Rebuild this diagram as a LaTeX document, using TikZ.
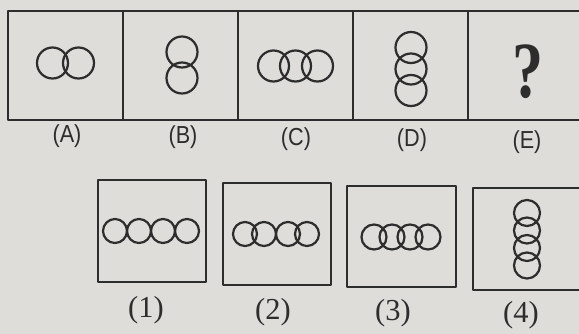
\documentclass[tikz,border=0pt]{standalone}
\usepackage{fontspec}
\setsansfont{Liberation Sans}
\newfontfamily\printserif{Liberation Serif}
\definecolor{paper}{RGB}{222,221,218}
\definecolor{ink}{RGB}{45,45,45}

\begin{document}
\begin{tikzpicture}[x=0.03cm, y=-0.03cm, line join=round,
  frame/.style={draw=ink, line width=2.3pt},
  ring/.style={draw=ink, line width=1.9pt},
  optlabel/.style={font=\sffamily\fontsize{21}{24}\selectfont, text=ink},
  anslabel/.style={font=\printserif\fontsize{26}{28}\selectfont, text=ink}]
\fill[paper] (0,0) rectangle (579,334);
\useasboundingbox (0,0) rectangle (579,334);

\draw[frame] (8,11) rectangle (600,120);
\foreach \xd in {123,238,353,468} \draw[frame] (\xd,11) -- (\xd,120);

\foreach \cx in {52.5,78.5} \draw[ring] (\cx,63) circle (15.5);
\foreach \cy in {52,78} \draw[ring] (182,\cy) circle (15.5);
\foreach \cx in {273.5,295.5,317.5} \draw[ring] (\cx,66) circle (15.5);
\foreach \cy in {47.5,69,90.5} \draw[ring] (411,\cy) circle (15.5);
\node[text=ink, font=\printserif\bfseries\fontsize{68}{68}\selectfont] (q) at (528,72) {\scalebox{0.78}[1]{?}};

\node[optlabel] (lA) at (67,136) {\scalebox{0.88}[1]{(A)}};
\node[optlabel] (lB) at (183,137) {\scalebox{0.88}[1]{(B)}};
\node[optlabel] (lC) at (296,139) {\scalebox{0.88}[1]{(C)}};
\node[optlabel] (lD) at (412,140) {\scalebox{0.88}[1]{(D)}};
\node[optlabel] (lE) at (527,142) {\scalebox{0.88}[1]{(E)}};

\draw[frame] (98,180) rectangle (206,282);
\draw[frame] (223,183) rectangle (331,285);
\draw[frame] (347,186) rectangle (456,287);
\draw[frame] (473,188) rectangle (582,290);

\foreach \cx in {115,139,163,187} \draw[ring] (\cx,231) circle (12);
\foreach \cx in {245,264,288,307} \draw[ring] (\cx,234) circle (12);
\foreach \cx in {374,392,410,428} \draw[ring] (\cx,237) circle (12.5);
\foreach \cy in {213,230.5,248,265.5} \draw[ring] (527,\cy) circle (13);

\node[anslabel] (l1) at (146,310) {(1)};
\node[anslabel] (l2) at (273,312) {(2)};
\node[anslabel] (l3) at (393,313) {(3)};
\node[anslabel] (l4) at (521,315) {(4)};
\end{tikzpicture}
\end{document}
